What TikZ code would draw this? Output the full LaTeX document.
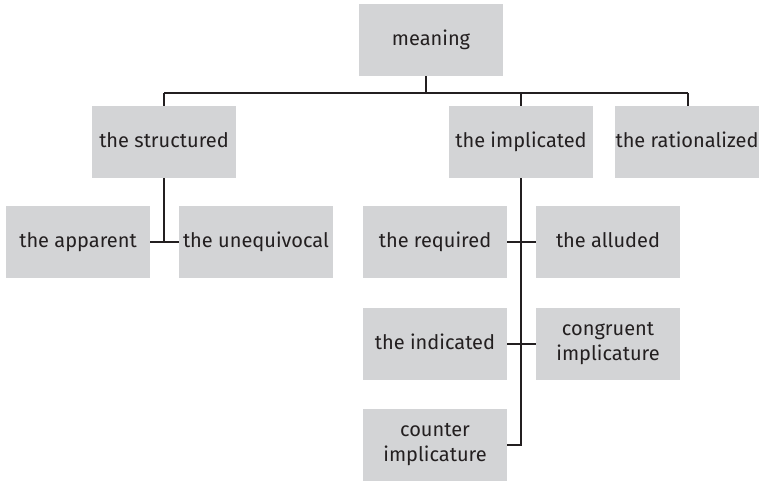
\documentclass[tikz,border=0pt]{standalone}
\usepackage{fontspec}
\setmainfont{Fira Sans}
\definecolor{boxgray}{RGB}{211,212,214}
\definecolor{linedark}{RGB}{35,31,32}
\begin{document}
\begin{tikzpicture}[x=1pt,y=1pt,
  cat/.style={fill=boxgray, minimum width=144pt, minimum height=72pt,
    inner sep=0pt, align=center, text=linedark,
    font=\fontsize{20}{25}\selectfont},
  oneline/.style={text height=12pt, text depth=0pt},
  thin link/.style={draw=linedark, line width=1.2pt},
  stem/.style={draw=linedark, line width=2pt}]
\useasboundingbox (0,0) rectangle (761,481);
% boxes (y measured upward from the bottom edge)
\node[cat, oneline] (meaning) at (431,441) {meaning};
\node[cat, oneline] (structured) at (164,339) {the structured};
\node[cat, oneline] (implicated) at (521,339) {the implicated};
\node[cat, oneline] (rationalized) at (687,339) {the rationalized};
\node[cat, oneline] (apparent) at (78,239) {the apparent};
\node[cat, oneline, minimum width=154pt] (unequivocal) at (256,239) {the unequivocal};
\node[cat, oneline] (required) at (435,239) {the required};
\node[cat, oneline] (alluded) at (608,239) {the alluded};
\node[cat, oneline] (indicated) at (435,137) {the indicated};
\node[cat] (congruent) at (608,137) {congruent\\implicature};
\node[cat] (counter) at (435,36) {counter\\implicature};
% top-level bus
\coordinate (busL) at (164,388);
\coordinate (busR) at (688,388);
\coordinate (meetM) at (426,388);
\coordinate (meetI) at (521,388);
\draw[thin link] (busL) -- (busR);
\draw[thin link] ([xshift=-5pt]meaning.south) -- (meetM);
\draw[thin link] (busL) -- (structured.north);
\draw[thin link] (meetI) -- (implicated.north);
\draw[thin link] (busR) -- (busR |- rationalized.north);
% branches under "the structured"
\draw[stem] (structured.south) -- (structured.south |- apparent.east);
\draw[thin link] (apparent.east) -- (unequivocal.west);
% branches under "the implicated"
\coordinate (stemEnd) at (521,36);
\draw[stem] (implicated.south) -- (stemEnd);
\draw[thin link] ([xshift=0.6pt]stemEnd) -- (counter.east);
\draw[thin link] (required.east) -- (alluded.west);
\draw[thin link] (indicated.east) -- (congruent.west);
\end{tikzpicture}
\end{document}
